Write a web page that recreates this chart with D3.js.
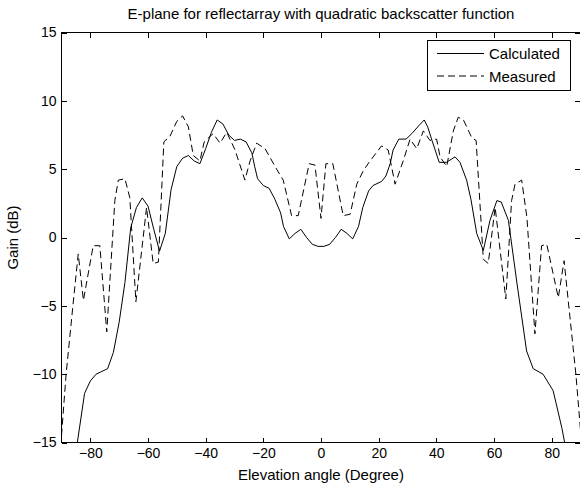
<!DOCTYPE html>
<html>
<head>
<meta charset="utf-8">
<script src="https://cdn.jsdelivr.net/npm/d3@7"></script>
<style>
  html, body { margin: 0; padding: 0; background: #fff; }
  svg { display: block; font-family: Arial, "Liberation Sans", sans-serif; }
</style>
</head>
<body>
<svg id="chart" width="580" height="488"></svg>
<script>
// ---- data ----
const titleText = "E-plane for reflectarray with quadratic backscatter function";
const xLabel = "Elevation angle (Degree)";
const yLabel = "Gain (dB)";
const seriesNames = ["Calculated", "Measured"];
const xTicks = [-80, -60, -40, -20, 0, 20, 40, 60, 80];
const yTicks = [-15, -10, -5, 0, 5, 10, 15];

const calcAngle = [-84.5, -82, -80, -78, -76, -74, -72, -70, -68, -66, -64, -62, -60, -58, -56, -54, -52, -50, -48, -46, -44, -42, -40, -38, -36, -34, -32, -30, -28, -26, -24, -23, -22, -20, -18, -16, -14, -13, -11, -9, -7, -5, -3, -1, 0, 1, 3, 5, 7, 9, 11, 13, 14.5, 16.5, 18, 21, 22.5, 24, 25, 27, 29.5, 31.5, 34, 35.8, 37, 38.5, 41, 43.5, 46.5, 48.2, 50.5, 52, 54, 56.3, 58.6, 61, 62.5, 65, 68, 71.3, 73.6, 77, 80.5, 83.5, 84.5];
const calcGain  = [-15, -11.4, -10.5, -10.0, -9.8, -9.6, -8.4, -6.2, -3.3, 0.7, 2.2, 2.9, 2.3, 0.6, -1.0, 0.3, 3.5, 5.2, 5.8, 6.0, 5.6, 5.4, 6.5, 7.7, 8.6, 8.3, 7.5, 7.1, 7.2, 7.0, 6.2, 5.2, 4.3, 3.8, 3.6, 2.8, 1.8, 0.8, -0.1, 0.3, 0.6, 0.0, -0.5, -0.65, -0.65, -0.65, -0.5, 0.0, 0.6, 0.3, -0.1, 0.8, 2.2, 3.4, 3.8, 4.1, 4.5, 5.4, 6.4, 7.2, 7.2, 7.6, 8.2, 8.6, 8.1, 7.1, 5.5, 5.5, 5.9, 5.5, 4.2, 2.8, 0.3, -0.95, 1.25, 2.7, 2.6, 1.25, -3.4, -8.3, -9.6, -10.0, -11.2, -13.9, -15];

const measAngle = [-90, -88.4, -86, -84.2, -82.4, -79, -76.7, -74.3, -71.5, -70.3, -68, -66.3, -64.2, -60.5, -58.2, -56.4, -54.5, -52.4, -50, -48, -46, -44.3, -42, -40.5, -37.4, -35, -32.7, -29.8, -26.4, -24.6, -22.3, -19.4, -15.4, -13.1, -10.2, -7.9, -4.1, -2.1, 0, 1.7, 4.1, 7.7, 10.1, 12.4, 14.7, 17, 21, 23.3, 25.7, 28.5, 30.9, 33.2, 35.5, 37.8, 40.1, 41.3, 43.6, 45.9, 47.6, 49.4, 52.3, 53.8, 56.3, 58, 60.4, 64.1, 66.1, 67.3, 69.6, 71.4, 74.2, 76.5, 78.3, 82.3, 84.3, 88.4, 90];
const measGain  = [-14.5, -10, -4.9, -1.2, -4.6, -0.6, -0.6, -6.9, 2.7, 4.2, 4.3, 2.9, -4.7, 2.2, -1.9, -1.8, 7.0, 7.4, 8.5, 8.9, 8.1, 6.0, 5.6, 7.0, 7.6, 6.9, 7.7, 6.4, 4.2, 5.6, 6.9, 6.5, 5.0, 4.2, 1.6, 1.6, 5.4, 5.3, 1.4, 5.4, 5.4, 1.6, 1.7, 3.9, 4.9, 5.6, 6.7, 6.4, 3.9, 5.6, 7.2, 6.5, 7.8, 7.1, 7.2, 5.9, 5.2, 7.8, 8.8, 8.6, 7.3, 7.1, -1.6, -1.9, 2.2, -4.5, 2.7, 3.9, 4.2, 1.5, -7.05, -0.6, -0.5, -4.4, -1.7, -10, -14.1];

// ---- layout ----
const L = 61.5, R = 580.5, T = 32.5, B = 442.5;
const svg = d3.select("#chart");
const x = d3.scaleLinear().domain([-90, 90]).range([L, R]);
const y = d3.scaleLinear().domain([-15, 15]).range([B, T]);

svg.append("defs").append("clipPath").attr("id", "clip")
  .append("rect").attr("x", L).attr("y", T).attr("width", R - L).attr("height", B - T);

// axes (ticks inward on all four sides)
function styleAxis(g, fs) {
  g.selectAll(".domain").remove();
  g.selectAll("line").attr("stroke", "#000").attr("shape-rendering", "crispEdges");
  g.selectAll("text").attr("fill", "#000").style("font-size", fs + "px");
}
svg.append("g").attr("transform", `translate(0,${B})`)
  .call(d3.axisBottom(x).tickValues(xTicks).tickSizeInner(-5).tickSizeOuter(0).tickPadding(6).tickFormat(d3.format("d")))
  .call(g => styleAxis(g, 14));
svg.append("g").attr("transform", `translate(0,${T})`)
  .call(d3.axisTop(x).tickValues(xTicks).tickSizeInner(-5).tickSizeOuter(0).tickFormat(""))
  .call(g => styleAxis(g, 14));
svg.append("g").attr("transform", `translate(${L},0)`)
  .call(d3.axisLeft(y).tickValues(yTicks).tickSizeInner(-5).tickSizeOuter(0).tickPadding(5).tickFormat(d3.format("d")))
  .call(g => styleAxis(g, 14));
svg.append("g").attr("transform", `translate(${R - 1},0)`)
  .call(d3.axisRight(y).tickValues(yTicks).tickSizeInner(-5).tickSizeOuter(0).tickFormat(""))
  .call(g => styleAxis(g, 14));

// frame
svg.append("rect").attr("x", L).attr("y", T).attr("width", R - L).attr("height", B - T)
  .attr("fill", "none").attr("stroke", "#000").attr("stroke-width", 1).attr("shape-rendering", "crispEdges");

// lines
const line = d3.line().x(d => x(d[0])).y(d => y(d[1]));
const calcData = calcAngle.map((a, i) => [a, calcGain[i]]);
const measData = measAngle.map((a, i) => [a, measGain[i]]);
const plot = svg.append("g").attr("clip-path", "url(#clip)");
plot.append("path").datum(calcData).attr("d", line)
  .attr("fill", "none").attr("stroke", "#000").attr("stroke-width", 1);
plot.append("path").datum(measData).attr("d", line)
  .attr("fill", "none").attr("stroke", "#000").attr("stroke-width", 1).attr("stroke-dasharray", "7,4");

// title & labels
svg.append("text").attr("x", (L + R) / 2).attr("y", 19).attr("text-anchor", "middle")
  .style("font-size", "15px").text(titleText);
svg.append("text").attr("x", (L + R) / 2).attr("y", 480).attr("text-anchor", "middle")
  .style("font-size", "15px").text(xLabel);
svg.append("text").attr("transform", `translate(18,${(T + B) / 2}) rotate(-90)`).attr("text-anchor", "middle")
  .style("font-size", "15px").text(yLabel);

// legend
const lg = svg.append("g");
lg.append("rect").attr("x", 427.5).attr("y", 40.5).attr("width", 143).attr("height", 50)
  .attr("fill", "#fff").attr("stroke", "#000").attr("stroke-width", 1).attr("shape-rendering", "crispEdges");
const legY = [53.5, 76];
seriesNames.forEach((name, i) => {
  lg.append("line").attr("x1", 437).attr("x2", 484).attr("y1", legY[i]).attr("y2", legY[i])
    .attr("stroke", "#000").attr("stroke-width", 1)
    .attr("stroke-dasharray", i === 1 ? "7,4" : null);
  lg.append("text").attr("x", 489).attr("y", legY[i] + 5.5).style("font-size", "15px").text(name);
});
</script>
</body>
</html>
